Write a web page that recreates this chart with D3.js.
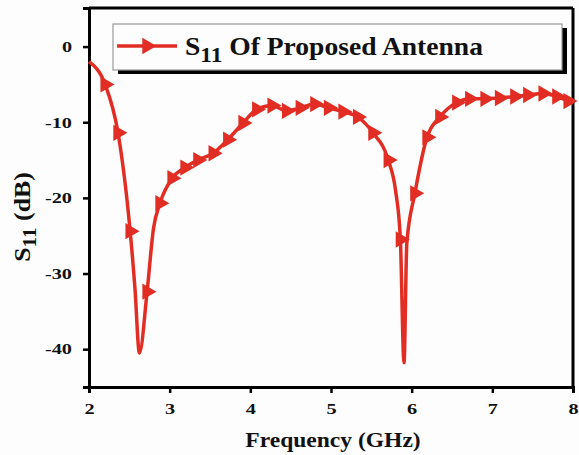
<!DOCTYPE html>
<html>
<head>
<meta charset="utf-8">
<script src="https://cdn.jsdelivr.net/npm/d3@7/dist/d3.min.js"></script>
<style>
  html, body { margin: 0; padding: 0; background: #fdfdfd; }
  svg { display: block; }
  text { font-family: "Liberation Serif", "Times New Roman", serif; font-weight: bold; fill: #111; }
</style>
</head>
<body>
<script>
// Frequency (GHz)
const freq = [2.00, 2.20, 2.36, 2.51, 2.57, 2.625, 2.72, 2.80, 2.88, 3.03, 3.19, 3.35, 3.54, 3.72, 3.91, 4.08, 4.27, 4.45, 4.62, 4.80, 4.97, 5.15, 5.33, 5.52, 5.71, 5.80, 5.86, 5.905, 5.94, 6.04, 6.19, 6.35, 6.56, 6.72, 6.91, 7.09, 7.28, 7.44, 7.63, 7.80, 7.94, 8.00];
// S11 (dB)
const s11  = [-2.0, -5.0, -11.4, -24.4, -32.0, -40.5, -32.4, -24.0, -20.7, -17.4, -16.0, -15.0, -14.1, -12.3, -10.1, -8.3, -7.8, -8.5, -8.1, -7.6, -8.1, -8.6, -9.3, -11.4, -15.0, -19.0, -25.5, -41.8, -26.0, -19.4, -12.0, -9.3, -7.4, -6.9, -6.9, -6.8, -6.6, -6.4, -6.2, -6.6, -7.2, -7.5];
// 1 = point carries a triangle marker
const hasMarker = [0, 1, 1, 1, 0, 0, 1, 0, 1, 1, 1, 1, 1, 1, 1, 1, 1, 1, 1, 1, 1, 1, 1, 1, 1, 0, 1, 0, 0, 1, 1, 1, 1, 1, 1, 1, 1, 1, 1, 1, 1, 0];
const xTicks = [2, 3, 4, 5, 6, 7, 8];
const yTicks = [0, -10, -20, -30, -40];
const seriesName = "Of Proposed Antenna";

const W = 579, H = 455;
const m = { left: 89, right: 6, top: 8, bottom: 68 };
const red = "#e22d24";

const svg = d3.select("body").append("svg").attr("width", W).attr("height", H);

// widen glyphs horizontally (reference text looks stretched)
function stretch(sel, k) {
  sel.each(function () {
    const len = this.getComputedTextLength();
    d3.select(this).attr("textLength", len * k).attr("lengthAdjust", "spacingAndGlyphs");
  });
}

const x = d3.scaleLinear().domain([2, 8]).range([m.left, W - m.right]);
const y = d3.scaleLinear().domain([-45, 5.1]).range([H - m.bottom, m.top]);

// Frame (top & right)
svg.append("line").attr("x1", x(2)).attr("x2", x(8)).attr("y1", y(5.1)).attr("y2", y(5.1))
  .attr("stroke", "#000").attr("stroke-width", 3);
svg.append("line").attr("x1", x(8)).attr("x2", x(8)).attr("y1", y(5.1)).attr("y2", y(-45))
  .attr("stroke", "#000").attr("stroke-width", 3);

// Axes
const xAxis = svg.append("g").attr("transform", `translate(0,${y(-45)})`)
  .call(d3.axisBottom(x).tickValues(xTicks).tickFormat(d3.format("d")).tickSize(6).tickPadding(10));
const yAxis = svg.append("g").attr("transform", `translate(${x(2)},0)`)
  .call(d3.axisLeft(y).tickValues(yTicks).tickFormat(d => d === 0 ? "0" : "-" + Math.abs(d)).tickSize(6).tickPadding(11));
[xAxis, yAxis].forEach(g => {
  g.select(".domain").attr("stroke", "#000").attr("stroke-width", 3);
  g.selectAll(".tick line").attr("stroke", "#000").attr("stroke-width", 2.5);
  g.selectAll(".tick text").attr("font-size", 15).attr("font-family", "Liberation Serif, serif")
    .attr("font-weight", "bold").attr("fill", "#111");
  stretch(g.selectAll(".tick text"), 1.35);
});

// Data line
const pts = freq.map((f, i) => ({ f, v: s11[i], mk: hasMarker[i] }));
const line = d3.line().x(d => x(d.f)).y(d => y(d.v)).curve(d3.curveMonotoneX);

const plot = svg.append("g");
plot.append("path").datum(pts).attr("d", line)
  .attr("fill", "none").attr("stroke", red).attr("stroke-width", 3.5).attr("stroke-linejoin", "round");

const tri = d3.symbol().type(d3.symbolTriangle).size(115);
plot.selectAll("path.mk").data(pts.filter(d => d.mk)).join("path")
  .attr("class", "mk")
  .attr("d", tri)
  .attr("transform", d => `translate(${x(d.f)},${y(d.v)}) rotate(90)`)
  .attr("fill", red);

// Legend
const lg = svg.append("g");
const lx0 = 113, ly0 = 24, lw = 449, lh = 46;
lg.append("rect").attr("x", lx0 + 5).attr("y", ly0 + 4).attr("width", lw).attr("height", lh).attr("fill", "#000");
lg.append("rect").attr("x", lx0).attr("y", ly0).attr("width", lw).attr("height", lh)
  .attr("fill", "#fdfdfd").attr("stroke", "#9a9a9a").attr("stroke-width", 1.2);
lg.append("line").attr("x1", lx0 + 4).attr("x2", lx0 + 64).attr("y1", ly0 + 22).attr("y2", ly0 + 22)
  .attr("stroke", red).attr("stroke-width", 3.5);
lg.append("path").attr("d", tri).attr("transform", `translate(${lx0 + 34},${ly0 + 22}) rotate(90)`).attr("fill", red);
const lt = lg.append("text").attr("x", lx0 + 72).attr("y", ly0 + 31).attr("font-size", 26);
lt.append("tspan").text("S");
lt.append("tspan").attr("dy", 7).attr("font-size", 22).text("11");
lt.append("tspan").attr("dy", -7).text(" " + seriesName);
stretch(lt, 1.06);

// Axis titles
const xt = svg.append("text").attr("x", 333).attr("y", 447).attr("text-anchor", "middle").attr("font-size", 22)
  .text("Frequency (GHz)");
stretch(xt, 1.07);
const yt = svg.append("text").attr("transform", `translate(30,217) rotate(-90)`).attr("text-anchor", "middle").attr("font-size", 23);
yt.append("tspan").text("S");
yt.append("tspan").attr("dy", 6).attr("font-size", 19).text("11");
yt.append("tspan").attr("dy", -6).text(" (dB)");
stretch(yt, 1.12);
</script>
</body>
</html>
